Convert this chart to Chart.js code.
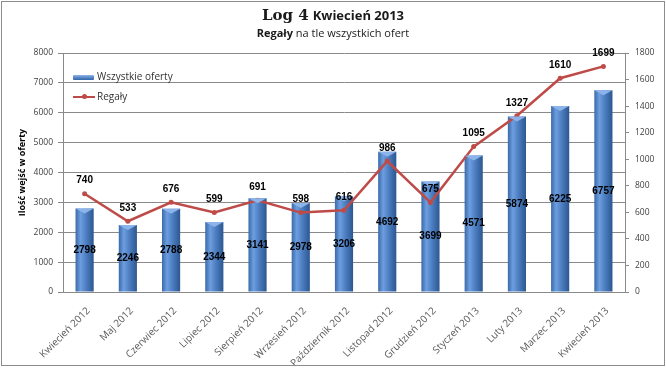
<!DOCTYPE html>
<html>
<head>
<meta charset="utf-8">
<script src="https://cdn.jsdelivr.net/npm/chart.js@4.4.1/dist/chart.umd.min.js"></script>
<style>
  html, body { margin:0; padding:0; background:#fff; }
  #wrap { position:relative; width:666px; height:368px; overflow:hidden; }
  #c { position:absolute; left:0; top:0; }
  #frame { position:absolute; left:1px; top:1px; width:664px; height:365px; box-sizing:border-box; border:1px solid #8c8c8c; pointer-events:none; }
  .t1 { position:absolute; left:0; width:666px; top:6px; text-align:center; white-space:nowrap; color:#1a1a1a; }
  .t2 { position:absolute; left:0; width:666px; top:25px; text-align:center; white-space:nowrap; font:11px 'Open Sans', sans-serif; color:#1a1a1a; }
  .leg { position:absolute; font:10px 'Open Sans', sans-serif; color:#333; white-space:nowrap; }
</style>
</head>
<body>
<div id="wrap">
  <canvas id="c" width="666" height="368"></canvas>
  <div class="t1"><span style="font:bold 15px 'DejaVu Serif', serif;">Log 4</span> <span style="font:bold 13px 'Open Sans', sans-serif;">Kwiecień 2013</span></div>
  <div class="t2"><b>Regały</b> na tle wszystkich ofert</div>
  <div style="position:absolute;left:73px;top:75px;width:21px;height:5px;background:linear-gradient(#8fb4e8,#4f81c4 60%,#3566a5);border-radius:1px;"></div>
  <div class="leg" style="left:97px;top:69px;">Wszystkie oferty</div>
  <div style="position:absolute;left:73px;top:96px;width:22px;height:2px;background:#be4b48;"></div>
  <div style="position:absolute;left:82px;top:94px;width:5px;height:5px;border-radius:50%;background:#be4b48;"></div>
  <div class="leg" style="left:97px;top:89px;">Regały</div>
  <div id="frame"></div>
</div>
<script>
const categories = ['Kwiecień 2012','Maj 2012','Czerwiec 2012','Lipiec 2012','Sierpień 2012','Wrzesień 2012','Październik 2012','Listopad 2012','Grudzień 2012','Styczeń 2013','Luty 2013','Marzec 2013','Kwiecień 2013'];
const allOffers = [2798,2246,2788,2344,3141,2978,3206,4692,3699,4571,5874,6225,6757];
const regaly = [740,533,676,599,691,598,616,986,675,1095,1327,1610,1699];
const leftTicks = [0,1000,2000,3000,4000,5000,6000,7000,8000];
const rightTicks = [0,200,400,600,800,1000,1200,1400,1600,1800];

const BAR_PCT = 0.42;
const GRID = '#8a8a8a';
const TICK_FONT = { family: '"Open Sans", sans-serif', size: 8.5 };

function barGradient(ctx) {
  const chart = ctx.chart;
  const xs = chart.scales && chart.scales.x;
  if (!xs || ctx.dataIndex === undefined || !chart.chartArea) return '#4f81bd';
  const cx = xs.getPixelForValue(ctx.dataIndex);
  const w = (chart.chartArea.right - chart.chartArea.left) / categories.length * BAR_PCT;
  const g = chart.ctx.createLinearGradient(cx - w/2, 0, cx + w/2, 0);
  g.addColorStop(0, '#3a6aa8');
  g.addColorStop(0.28, '#6d9edf');
  g.addColorStop(0.55, '#4f81c4');
  g.addColorStop(1, '#2c5791');
  return g;
}

const capsAndLabels = {
  id: 'capsAndLabels',
  afterDatasetsDraw(chart) {
    const c = chart.ctx;
    const barMeta = chart.getDatasetMeta(1);
    const lineMeta = chart.getDatasetMeta(0);
    c.save();
    barMeta.data.forEach(el => {
      const w = el.width;
      c.beginPath();
      c.moveTo(el.x - w/2, el.y);
      c.lineTo(el.x + w/2, el.y);
      c.lineTo(el.x, el.y + 5);
      c.closePath();
      c.fillStyle = '#8db4ea';
      c.fill();
    });
    c.restore();
    c.save();
    c.font = 'bold 10px "Liberation Sans", Arial, sans-serif';
    c.fillStyle = '#000';
    c.textAlign = 'center';
    c.textBaseline = 'middle';
    const yBase = chart.scales.y.getPixelForValue(0);
    barMeta.data.forEach((el, i) => {
      c.fillText(String(allOffers[i]), el.x, (el.y + yBase) / 2);
    });
    lineMeta.data.forEach((el, i) => {
      c.fillText(String(regaly[i]), el.x, el.y - 13);
    });
    c.restore();
  }
};

new Chart(document.getElementById('c'), {
  data: {
    labels: categories,
    datasets: [
      {
        type: 'line',
        label: 'Regały',
        data: regaly,
        yAxisID: 'y1',
        borderColor: '#be4b48',
        backgroundColor: '#be4b48',
        borderWidth: 2.5,
        pointRadius: 2.5,
        pointBackgroundColor: '#be4b48',
        pointBorderWidth: 0,
        tension: 0,
        order: 0
      },
      {
        type: 'bar',
        label: 'Wszystkie oferty',
        data: allOffers,
        yAxisID: 'y',
        backgroundColor: barGradient,
        borderWidth: 0,
        barPercentage: BAR_PCT,
        categoryPercentage: 1,
        order: 1
      }
    ]
  },
  options: {
    responsive: false,
    animation: false,
    devicePixelRatio: 1,
    layout: { padding: { top: 53, left: 0, right: 0, bottom: 0 } },
    plugins: {
      legend: { display: false },
      title: { display: false },
      tooltip: { enabled: false }
    },
    scales: {
      x: {
        offset: true,
        grid: { display: false },
        border: { display: true, color: GRID, width: 1 },
        ticks: {
          autoSkip: false, maxRotation: 45, minRotation: 45, padding: 5, labelOffset: 4,
          color: '#595959',
          font: { family: '"Open Sans", sans-serif', size: 10 }
        },
        afterFit(s) { s.height = 76; }
      },
      y: {
        position: 'left',
        min: 0, max: 8000,
        afterBuildTicks(s) { s.ticks = leftTicks.map(v => ({ value: v })); },
        grid: { color: GRID, tickLength: 5, lineWidth: 1 },
        border: { display: true, color: GRID },
        ticks: { padding: 5, color: '#404040', font: TICK_FONT, callback: v => String(v) },
        title: { display: true, text: 'Ilość wejść w oferty', color: '#000', font: { family: '"Open Sans", sans-serif', size: 9, weight: 'bold' }, padding: { top: 17, bottom: 0 } },
        afterFit(s) { s.width = 63; }
      },
      y1: {
        position: 'right',
        min: 0, max: 1800,
        afterBuildTicks(s) { s.ticks = rightTicks.map(v => ({ value: v })); },
        grid: { drawOnChartArea: false, color: GRID, tickLength: 4 },
        border: { display: true, color: GRID },
        ticks: { padding: 6, color: '#404040', font: TICK_FONT, callback: v => String(v) },
        afterFit(s) { s.width = 41; }
      }
    }
  },
  plugins: [capsAndLabels]
});
</script>
</body>
</html>
